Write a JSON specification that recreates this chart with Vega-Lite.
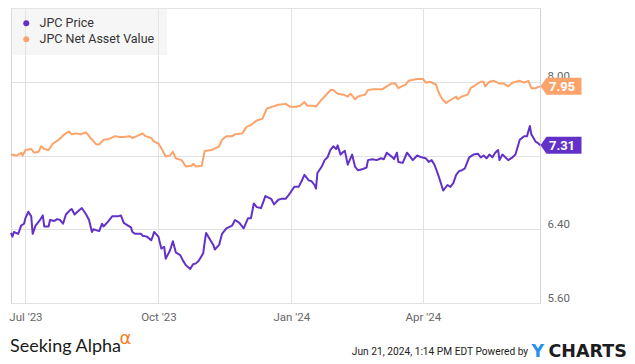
{
  "$schema": "https://vega.github.io/schema/vega-lite/v6.json",
  "width": 529,
  "height": 295,
  "autosize": "none",
  "padding": {"left": 11, "top": 8, "right": 95, "bottom": 61},
  "background": "white",
  "config": {"view": {"stroke": "#d4d4d4", "strokeWidth": 1}, "font": "Roboto"},
  "title": {"text": "Seeking Alpha", "orient": "top", "anchor": "start", "frame": "group", "offset": 0, "dy": 362, "dx": -1, "baseline": "alphabetic", "font": "Lato", "fontSize": 18, "fontWeight": "normal", "color": "#1a1a1a"},
  "datasets": {
    "jpc": [
      {"s": "JPC Price", "d": "2023-06-21", "v": 6.36},
      {"s": "JPC Price", "d": "2023-06-22", "v": 6.32},
      {"s": "JPC Price", "d": "2023-06-23", "v": 6.37},
      {"s": "JPC Price", "d": "2023-06-26", "v": 6.35},
      {"s": "JPC Price", "d": "2023-06-28", "v": 6.44},
      {"s": "JPC Price", "d": "2023-06-30", "v": 6.46},
      {"s": "JPC Price", "d": "2023-07-01", "v": 6.52},
      {"s": "JPC Price", "d": "2023-07-03", "v": 6.59},
      {"s": "JPC Price", "d": "2023-07-05", "v": 6.54},
      {"s": "JPC Price", "d": "2023-07-06", "v": 6.35},
      {"s": "JPC Price", "d": "2023-07-08", "v": 6.44},
      {"s": "JPC Price", "d": "2023-07-11", "v": 6.50},
      {"s": "JPC Price", "d": "2023-07-13", "v": 6.55},
      {"s": "JPC Price", "d": "2023-07-14", "v": 6.43},
      {"s": "JPC Price", "d": "2023-07-17", "v": 6.43},
      {"s": "JPC Price", "d": "2023-07-18", "v": 6.50},
      {"s": "JPC Price", "d": "2023-07-21", "v": 6.49},
      {"s": "JPC Price", "d": "2023-07-23", "v": 6.51},
      {"s": "JPC Price", "d": "2023-07-25", "v": 6.50},
      {"s": "JPC Price", "d": "2023-07-27", "v": 6.46},
      {"s": "JPC Price", "d": "2023-07-29", "v": 6.56},
      {"s": "JPC Price", "d": "2023-08-01", "v": 6.61},
      {"s": "JPC Price", "d": "2023-08-02", "v": 6.62},
      {"s": "JPC Price", "d": "2023-08-04", "v": 6.56},
      {"s": "JPC Price", "d": "2023-08-06", "v": 6.59},
      {"s": "JPC Price", "d": "2023-08-09", "v": 6.63},
      {"s": "JPC Price", "d": "2023-08-12", "v": 6.56},
      {"s": "JPC Price", "d": "2023-08-14", "v": 6.50},
      {"s": "JPC Price", "d": "2023-08-16", "v": 6.37},
      {"s": "JPC Price", "d": "2023-08-17", "v": 6.40},
      {"s": "JPC Price", "d": "2023-08-21", "v": 6.38},
      {"s": "JPC Price", "d": "2023-08-23", "v": 6.46},
      {"s": "JPC Price", "d": "2023-08-24", "v": 6.43},
      {"s": "JPC Price", "d": "2023-08-27", "v": 6.48},
      {"s": "JPC Price", "d": "2023-08-30", "v": 6.54},
      {"s": "JPC Price", "d": "2023-09-03", "v": 6.54},
      {"s": "JPC Price", "d": "2023-09-05", "v": 6.55},
      {"s": "JPC Price", "d": "2023-09-07", "v": 6.47},
      {"s": "JPC Price", "d": "2023-09-10", "v": 6.44},
      {"s": "JPC Price", "d": "2023-09-12", "v": 6.42},
      {"s": "JPC Price", "d": "2023-09-13", "v": 6.37},
      {"s": "JPC Price", "d": "2023-09-15", "v": 6.35},
      {"s": "JPC Price", "d": "2023-09-19", "v": 6.35},
      {"s": "JPC Price", "d": "2023-09-20", "v": 6.33},
      {"s": "JPC Price", "d": "2023-09-23", "v": 6.32},
      {"s": "JPC Price", "d": "2023-09-26", "v": 6.28},
      {"s": "JPC Price", "d": "2023-09-27", "v": 6.32},
      {"s": "JPC Price", "d": "2023-09-28", "v": 6.37},
      {"s": "JPC Price", "d": "2023-10-01", "v": 6.32},
      {"s": "JPC Price", "d": "2023-10-03", "v": 6.19},
      {"s": "JPC Price", "d": "2023-10-05", "v": 6.21},
      {"s": "JPC Price", "d": "2023-10-06", "v": 6.08},
      {"s": "JPC Price", "d": "2023-10-09", "v": 6.17},
      {"s": "JPC Price", "d": "2023-10-11", "v": 6.27},
      {"s": "JPC Price", "d": "2023-10-13", "v": 6.15},
      {"s": "JPC Price", "d": "2023-10-16", "v": 6.12},
      {"s": "JPC Price", "d": "2023-10-18", "v": 6.06},
      {"s": "JPC Price", "d": "2023-10-20", "v": 6.01},
      {"s": "JPC Price", "d": "2023-10-23", "v": 5.97},
      {"s": "JPC Price", "d": "2023-10-25", "v": 6.02},
      {"s": "JPC Price", "d": "2023-10-27", "v": 6.03},
      {"s": "JPC Price", "d": "2023-10-29", "v": 6.06},
      {"s": "JPC Price", "d": "2023-11-01", "v": 6.14},
      {"s": "JPC Price", "d": "2023-11-02", "v": 6.26},
      {"s": "JPC Price", "d": "2023-11-03", "v": 6.36},
      {"s": "JPC Price", "d": "2023-11-06", "v": 6.28},
      {"s": "JPC Price", "d": "2023-11-08", "v": 6.23},
      {"s": "JPC Price", "d": "2023-11-09", "v": 6.18},
      {"s": "JPC Price", "d": "2023-11-12", "v": 6.23},
      {"s": "JPC Price", "d": "2023-11-14", "v": 6.35},
      {"s": "JPC Price", "d": "2023-11-17", "v": 6.41},
      {"s": "JPC Price", "d": "2023-11-21", "v": 6.44},
      {"s": "JPC Price", "d": "2023-11-23", "v": 6.50},
      {"s": "JPC Price", "d": "2023-11-26", "v": 6.47},
      {"s": "JPC Price", "d": "2023-11-29", "v": 6.41},
      {"s": "JPC Price", "d": "2023-12-02", "v": 6.52},
      {"s": "JPC Price", "d": "2023-12-04", "v": 6.52},
      {"s": "JPC Price", "d": "2023-12-06", "v": 6.68},
      {"s": "JPC Price", "d": "2023-12-08", "v": 6.64},
      {"s": "JPC Price", "d": "2023-12-11", "v": 6.63},
      {"s": "JPC Price", "d": "2023-12-14", "v": 6.76},
      {"s": "JPC Price", "d": "2023-12-18", "v": 6.73},
      {"s": "JPC Price", "d": "2023-12-20", "v": 6.67},
      {"s": "JPC Price", "d": "2023-12-23", "v": 6.72},
      {"s": "JPC Price", "d": "2023-12-25", "v": 6.73},
      {"s": "JPC Price", "d": "2023-12-28", "v": 6.73},
      {"s": "JPC Price", "d": "2023-12-31", "v": 6.79},
      {"s": "JPC Price", "d": "2024-01-03", "v": 6.86},
      {"s": "JPC Price", "d": "2024-01-06", "v": 6.86},
      {"s": "JPC Price", "d": "2024-01-08", "v": 6.92},
      {"s": "JPC Price", "d": "2024-01-10", "v": 6.99},
      {"s": "JPC Price", "d": "2024-01-13", "v": 6.93},
      {"s": "JPC Price", "d": "2024-01-15", "v": 6.92},
      {"s": "JPC Price", "d": "2024-01-17", "v": 6.88},
      {"s": "JPC Price", "d": "2024-01-18", "v": 6.84},
      {"s": "JPC Price", "d": "2024-01-19", "v": 7.01},
      {"s": "JPC Price", "d": "2024-01-22", "v": 7.08},
      {"s": "JPC Price", "d": "2024-01-24", "v": 7.15},
      {"s": "JPC Price", "d": "2024-01-26", "v": 7.18},
      {"s": "JPC Price", "d": "2024-01-28", "v": 7.26},
      {"s": "JPC Price", "d": "2024-01-30", "v": 7.30},
      {"s": "JPC Price", "d": "2024-02-01", "v": 7.27},
      {"s": "JPC Price", "d": "2024-02-02", "v": 7.31},
      {"s": "JPC Price", "d": "2024-02-04", "v": 7.21},
      {"s": "JPC Price", "d": "2024-02-06", "v": 7.24},
      {"s": "JPC Price", "d": "2024-02-07", "v": 7.25},
      {"s": "JPC Price", "d": "2024-02-09", "v": 7.10},
      {"s": "JPC Price", "d": "2024-02-12", "v": 7.21},
      {"s": "JPC Price", "d": "2024-02-14", "v": 7.08},
      {"s": "JPC Price", "d": "2024-02-16", "v": 7.04},
      {"s": "JPC Price", "d": "2024-02-19", "v": 7.05},
      {"s": "JPC Price", "d": "2024-02-22", "v": 7.07},
      {"s": "JPC Price", "d": "2024-02-23", "v": 7.15},
      {"s": "JPC Price", "d": "2024-02-26", "v": 7.16},
      {"s": "JPC Price", "d": "2024-02-29", "v": 7.15},
      {"s": "JPC Price", "d": "2024-03-03", "v": 7.17},
      {"s": "JPC Price", "d": "2024-03-05", "v": 7.16},
      {"s": "JPC Price", "d": "2024-03-07", "v": 7.23},
      {"s": "JPC Price", "d": "2024-03-11", "v": 7.18},
      {"s": "JPC Price", "d": "2024-03-12", "v": 7.16},
      {"s": "JPC Price", "d": "2024-03-14", "v": 7.23},
      {"s": "JPC Price", "d": "2024-03-15", "v": 7.13},
      {"s": "JPC Price", "d": "2024-03-18", "v": 7.12},
      {"s": "JPC Price", "d": "2024-03-21", "v": 7.23},
      {"s": "JPC Price", "d": "2024-03-23", "v": 7.19},
      {"s": "JPC Price", "d": "2024-03-25", "v": 7.15},
      {"s": "JPC Price", "d": "2024-03-28", "v": 7.20},
      {"s": "JPC Price", "d": "2024-03-31", "v": 7.18},
      {"s": "JPC Price", "d": "2024-04-03", "v": 7.17},
      {"s": "JPC Price", "d": "2024-04-05", "v": 7.13},
      {"s": "JPC Price", "d": "2024-04-07", "v": 7.15},
      {"s": "JPC Price", "d": "2024-04-09", "v": 7.10},
      {"s": "JPC Price", "d": "2024-04-12", "v": 6.97},
      {"s": "JPC Price", "d": "2024-04-13", "v": 6.92},
      {"s": "JPC Price", "d": "2024-04-15", "v": 6.82},
      {"s": "JPC Price", "d": "2024-04-18", "v": 6.88},
      {"s": "JPC Price", "d": "2024-04-20", "v": 6.86},
      {"s": "JPC Price", "d": "2024-04-22", "v": 6.90},
      {"s": "JPC Price", "d": "2024-04-24", "v": 6.99},
      {"s": "JPC Price", "d": "2024-04-26", "v": 7.03},
      {"s": "JPC Price", "d": "2024-04-28", "v": 7.04},
      {"s": "JPC Price", "d": "2024-04-30", "v": 7.06},
      {"s": "JPC Price", "d": "2024-05-03", "v": 7.18},
      {"s": "JPC Price", "d": "2024-05-06", "v": 7.21},
      {"s": "JPC Price", "d": "2024-05-09", "v": 7.22},
      {"s": "JPC Price", "d": "2024-05-11", "v": 7.18},
      {"s": "JPC Price", "d": "2024-05-13", "v": 7.20},
      {"s": "JPC Price", "d": "2024-05-15", "v": 7.17},
      {"s": "JPC Price", "d": "2024-05-17", "v": 7.21},
      {"s": "JPC Price", "d": "2024-05-19", "v": 7.18},
      {"s": "JPC Price", "d": "2024-05-21", "v": 7.23},
      {"s": "JPC Price", "d": "2024-05-23", "v": 7.26},
      {"s": "JPC Price", "d": "2024-05-24", "v": 7.15},
      {"s": "JPC Price", "d": "2024-05-26", "v": 7.21},
      {"s": "JPC Price", "d": "2024-05-28", "v": 7.18},
      {"s": "JPC Price", "d": "2024-05-30", "v": 7.15},
      {"s": "JPC Price", "d": "2024-06-02", "v": 7.18},
      {"s": "JPC Price", "d": "2024-06-04", "v": 7.21},
      {"s": "JPC Price", "d": "2024-06-07", "v": 7.37},
      {"s": "JPC Price", "d": "2024-06-10", "v": 7.41},
      {"s": "JPC Price", "d": "2024-06-12", "v": 7.41},
      {"s": "JPC Price", "d": "2024-06-14", "v": 7.52},
      {"s": "JPC Price", "d": "2024-06-15", "v": 7.43},
      {"s": "JPC Price", "d": "2024-06-18", "v": 7.35},
      {"s": "JPC Price", "d": "2024-06-20", "v": 7.33},
      {"s": "JPC Price", "d": "2024-06-21", "v": 7.31},
      {"s": "JPC Net Asset Value", "d": "2023-06-21", "v": 7.21},
      {"s": "JPC Net Asset Value", "d": "2023-06-25", "v": 7.20},
      {"s": "JPC Net Asset Value", "d": "2023-06-28", "v": 7.23},
      {"s": "JPC Net Asset Value", "d": "2023-06-29", "v": 7.20},
      {"s": "JPC Net Asset Value", "d": "2023-07-01", "v": 7.26},
      {"s": "JPC Net Asset Value", "d": "2023-07-05", "v": 7.27},
      {"s": "JPC Net Asset Value", "d": "2023-07-07", "v": 7.23},
      {"s": "JPC Net Asset Value", "d": "2023-07-10", "v": 7.24},
      {"s": "JPC Net Asset Value", "d": "2023-07-12", "v": 7.30},
      {"s": "JPC Net Asset Value", "d": "2023-07-14", "v": 7.27},
      {"s": "JPC Net Asset Value", "d": "2023-07-17", "v": 7.26},
      {"s": "JPC Net Asset Value", "d": "2023-07-20", "v": 7.33},
      {"s": "JPC Net Asset Value", "d": "2023-07-24", "v": 7.37},
      {"s": "JPC Net Asset Value", "d": "2023-07-28", "v": 7.43},
      {"s": "JPC Net Asset Value", "d": "2023-07-31", "v": 7.46},
      {"s": "JPC Net Asset Value", "d": "2023-08-02", "v": 7.43},
      {"s": "JPC Net Asset Value", "d": "2023-08-05", "v": 7.44},
      {"s": "JPC Net Asset Value", "d": "2023-08-08", "v": 7.43},
      {"s": "JPC Net Asset Value", "d": "2023-08-12", "v": 7.45},
      {"s": "JPC Net Asset Value", "d": "2023-08-15", "v": 7.39},
      {"s": "JPC Net Asset Value", "d": "2023-08-19", "v": 7.32},
      {"s": "JPC Net Asset Value", "d": "2023-08-21", "v": 7.32},
      {"s": "JPC Net Asset Value", "d": "2023-08-24", "v": 7.37},
      {"s": "JPC Net Asset Value", "d": "2023-08-28", "v": 7.38},
      {"s": "JPC Net Asset Value", "d": "2023-09-01", "v": 7.41},
      {"s": "JPC Net Asset Value", "d": "2023-09-04", "v": 7.40},
      {"s": "JPC Net Asset Value", "d": "2023-09-07", "v": 7.40},
      {"s": "JPC Net Asset Value", "d": "2023-09-11", "v": 7.41},
      {"s": "JPC Net Asset Value", "d": "2023-09-13", "v": 7.39},
      {"s": "JPC Net Asset Value", "d": "2023-09-16", "v": 7.41},
      {"s": "JPC Net Asset Value", "d": "2023-09-20", "v": 7.44},
      {"s": "JPC Net Asset Value", "d": "2023-09-22", "v": 7.41},
      {"s": "JPC Net Asset Value", "d": "2023-09-26", "v": 7.39},
      {"s": "JPC Net Asset Value", "d": "2023-09-28", "v": 7.35},
      {"s": "JPC Net Asset Value", "d": "2023-10-01", "v": 7.33},
      {"s": "JPC Net Asset Value", "d": "2023-10-03", "v": 7.28},
      {"s": "JPC Net Asset Value", "d": "2023-10-06", "v": 7.19},
      {"s": "JPC Net Asset Value", "d": "2023-10-09", "v": 7.20},
      {"s": "JPC Net Asset Value", "d": "2023-10-11", "v": 7.24},
      {"s": "JPC Net Asset Value", "d": "2023-10-13", "v": 7.17},
      {"s": "JPC Net Asset Value", "d": "2023-10-17", "v": 7.15},
      {"s": "JPC Net Asset Value", "d": "2023-10-20", "v": 7.08},
      {"s": "JPC Net Asset Value", "d": "2023-10-24", "v": 7.09},
      {"s": "JPC Net Asset Value", "d": "2023-10-25", "v": 7.11},
      {"s": "JPC Net Asset Value", "d": "2023-10-27", "v": 7.08},
      {"s": "JPC Net Asset Value", "d": "2023-10-31", "v": 7.09},
      {"s": "JPC Net Asset Value", "d": "2023-11-02", "v": 7.25},
      {"s": "JPC Net Asset Value", "d": "2023-11-07", "v": 7.26},
      {"s": "JPC Net Asset Value", "d": "2023-11-12", "v": 7.30},
      {"s": "JPC Net Asset Value", "d": "2023-11-14", "v": 7.37},
      {"s": "JPC Net Asset Value", "d": "2023-11-17", "v": 7.41},
      {"s": "JPC Net Asset Value", "d": "2023-11-21", "v": 7.41},
      {"s": "JPC Net Asset Value", "d": "2023-11-23", "v": 7.43},
      {"s": "JPC Net Asset Value", "d": "2023-11-28", "v": 7.44},
      {"s": "JPC Net Asset Value", "d": "2023-12-01", "v": 7.51},
      {"s": "JPC Net Asset Value", "d": "2023-12-04", "v": 7.53},
      {"s": "JPC Net Asset Value", "d": "2023-12-08", "v": 7.58},
      {"s": "JPC Net Asset Value", "d": "2023-12-12", "v": 7.60},
      {"s": "JPC Net Asset Value", "d": "2023-12-15", "v": 7.71},
      {"s": "JPC Net Asset Value", "d": "2023-12-19", "v": 7.73},
      {"s": "JPC Net Asset Value", "d": "2023-12-23", "v": 7.75},
      {"s": "JPC Net Asset Value", "d": "2023-12-28", "v": 7.76},
      {"s": "JPC Net Asset Value", "d": "2023-12-31", "v": 7.73},
      {"s": "JPC Net Asset Value", "d": "2024-01-05", "v": 7.73},
      {"s": "JPC Net Asset Value", "d": "2024-01-07", "v": 7.74},
      {"s": "JPC Net Asset Value", "d": "2024-01-10", "v": 7.78},
      {"s": "JPC Net Asset Value", "d": "2024-01-12", "v": 7.74},
      {"s": "JPC Net Asset Value", "d": "2024-01-16", "v": 7.74},
      {"s": "JPC Net Asset Value", "d": "2024-01-18", "v": 7.73},
      {"s": "JPC Net Asset Value", "d": "2024-01-21", "v": 7.79},
      {"s": "JPC Net Asset Value", "d": "2024-01-24", "v": 7.84},
      {"s": "JPC Net Asset Value", "d": "2024-01-28", "v": 7.91},
      {"s": "JPC Net Asset Value", "d": "2024-01-30", "v": 7.91},
      {"s": "JPC Net Asset Value", "d": "2024-02-02", "v": 7.87},
      {"s": "JPC Net Asset Value", "d": "2024-02-06", "v": 7.86},
      {"s": "JPC Net Asset Value", "d": "2024-02-09", "v": 7.84},
      {"s": "JPC Net Asset Value", "d": "2024-02-11", "v": 7.87},
      {"s": "JPC Net Asset Value", "d": "2024-02-14", "v": 7.81},
      {"s": "JPC Net Asset Value", "d": "2024-02-16", "v": 7.84},
      {"s": "JPC Net Asset Value", "d": "2024-02-21", "v": 7.86},
      {"s": "JPC Net Asset Value", "d": "2024-02-23", "v": 7.91},
      {"s": "JPC Net Asset Value", "d": "2024-02-27", "v": 7.92},
      {"s": "JPC Net Asset Value", "d": "2024-03-04", "v": 7.92},
      {"s": "JPC Net Asset Value", "d": "2024-03-07", "v": 7.95},
      {"s": "JPC Net Asset Value", "d": "2024-03-10", "v": 7.98},
      {"s": "JPC Net Asset Value", "d": "2024-03-13", "v": 7.98},
      {"s": "JPC Net Asset Value", "d": "2024-03-15", "v": 7.93},
      {"s": "JPC Net Asset Value", "d": "2024-03-20", "v": 7.97},
      {"s": "JPC Net Asset Value", "d": "2024-03-22", "v": 8.01},
      {"s": "JPC Net Asset Value", "d": "2024-03-28", "v": 8.03},
      {"s": "JPC Net Asset Value", "d": "2024-04-01", "v": 8.03},
      {"s": "JPC Net Asset Value", "d": "2024-04-03", "v": 7.99},
      {"s": "JPC Net Asset Value", "d": "2024-04-06", "v": 8.00},
      {"s": "JPC Net Asset Value", "d": "2024-04-10", "v": 7.97},
      {"s": "JPC Net Asset Value", "d": "2024-04-12", "v": 7.88},
      {"s": "JPC Net Asset Value", "d": "2024-04-14", "v": 7.82},
      {"s": "JPC Net Asset Value", "d": "2024-04-17", "v": 7.77},
      {"s": "JPC Net Asset Value", "d": "2024-04-21", "v": 7.81},
      {"s": "JPC Net Asset Value", "d": "2024-04-24", "v": 7.84},
      {"s": "JPC Net Asset Value", "d": "2024-04-25", "v": 7.81},
      {"s": "JPC Net Asset Value", "d": "2024-04-28", "v": 7.84},
      {"s": "JPC Net Asset Value", "d": "2024-05-02", "v": 7.86},
      {"s": "JPC Net Asset Value", "d": "2024-05-04", "v": 7.93},
      {"s": "JPC Net Asset Value", "d": "2024-05-08", "v": 7.97},
      {"s": "JPC Net Asset Value", "d": "2024-05-11", "v": 8.00},
      {"s": "JPC Net Asset Value", "d": "2024-05-13", "v": 8.00},
      {"s": "JPC Net Asset Value", "d": "2024-05-14", "v": 7.95},
      {"s": "JPC Net Asset Value", "d": "2024-05-17", "v": 8.00},
      {"s": "JPC Net Asset Value", "d": "2024-05-20", "v": 8.01},
      {"s": "JPC Net Asset Value", "d": "2024-05-24", "v": 7.98},
      {"s": "JPC Net Asset Value", "d": "2024-05-27", "v": 7.98},
      {"s": "JPC Net Asset Value", "d": "2024-05-30", "v": 7.95},
      {"s": "JPC Net Asset Value", "d": "2024-06-02", "v": 7.99},
      {"s": "JPC Net Asset Value", "d": "2024-06-07", "v": 8.01},
      {"s": "JPC Net Asset Value", "d": "2024-06-10", "v": 7.99},
      {"s": "JPC Net Asset Value", "d": "2024-06-13", "v": 8.01},
      {"s": "JPC Net Asset Value", "d": "2024-06-15", "v": 7.93},
      {"s": "JPC Net Asset Value", "d": "2024-06-18", "v": 7.93},
      {"s": "JPC Net Asset Value", "d": "2024-06-21", "v": 7.95}
    ]
  },
  "data": {"name": "jpc"},
  "layer": [
    {
      "mark": {"type": "line", "strokeWidth": 2, "strokeJoin": "round"},
      "encoding": {
        "x": {
          "field": "d", "type": "temporal",
          "scale": {"domain": [{"year": 2023, "month": 6, "date": 21, "utc": true}, {"year": 2024, "month": 6, "date": 21, "utc": true}]},
          "axis": {
            "orient": "bottom",
            "values": [{"year": 2023, "month": 7, "date": 1, "utc": true}, {"year": 2023, "month": 10, "date": 1, "utc": true}, {"year": 2024, "month": 1, "date": 1, "utc": true}, {"year": 2024, "month": 4, "date": 1, "utc": true}],
            "labelExpr": "utcFormat(datum.value, \"%b '%y\")",
            "grid": true, "gridColor": "#e2e2e2", "ticks": false, "domain": false,
            "labelFlush": false, "labelPadding": 8, "labelFont": "Roboto", "labelFontSize": 11.5, "labelColor": "#666666",
            "title": "Jun 21, 2024, 1:14 PM EDT Powered by",
            "titleX": 516.7, "titleY": 48.7, "titleAlign": "right", "titleAnchor": null, "titleBaseline": "middle",
            "titleFont": "Roboto", "titleFontSize": 10.2, "titleFontWeight": "normal", "titleColor": "#222222"
          }
        },
        "y": {
          "field": "v", "type": "quantitative",
          "scale": {"domain": [5.6, 8.8], "nice": false, "zero": false},
          "axis": {
            "orient": "right",
            "values": [5.6, 6.4, 7.2, 8.0, 8.8],
            "labelExpr": "(datum.value > 7.1 && datum.value < 7.3) || datum.value > 8.5 ? '' : format(datum.value, '.2f')",
            "grid": true, "gridColor": "#e2e2e2", "ticks": false, "domain": false,
            "labelPadding": 7, "labelBaseline": "alphabetic", "labelOffset": -2, "labelFlush": false,
            "labelFont": "Roboto", "labelFontSize": 11.5, "labelColor": "#666666",
            "title": "CHARTS", "titleX": 8, "titleY": 348.7, "titleAngle": 0, "titleAlign": "left", "titleAnchor": null, "titleBaseline": "alphabetic",
            "titleFont": "DejaVu Sans", "titleFontSize": 17.5, "titleFontWeight": "bold", "titleColor": "#1d1d1f"
          }
        },
        "stroke": {
          "field": "s", "type": "nominal",
          "scale": {"domain": ["JPC Price", "JPC Net Asset Value"], "range": ["#6232c8", "#fba36b"]},
          "legend": {
            "orient": "none", "legendX": 0, "legendY": 0,
            "title": "\u00a0\u00a0\u00a0\u00a0\u00a0\u00a0\u00a0\u00a0\u00a0\u00a0\u00a0\u00a0\u00a0", "titleOrient": "right", "titleFontSize": 12, "titlePadding": 4,
            "fillColor": "rgba(232,232,232,0.4)", "padding": 9, "rowPadding": 3,
            "symbolType": "circle", "symbolSize": 36, "symbolStrokeWidth": 0,
            "labelFont": "Roboto", "labelFontSize": 12.5, "labelColor": "#333333", "labelOffset": 7
          }
        }
      }
    },
    {
      "transform": [{"filter": "utcyear(toDate(datum.d)) == 2024 && utcmonth(toDate(datum.d)) == 5 && utcdate(toDate(datum.d)) == 21"}],
      "encoding": {
        "x": {
          "field": "d", "type": "temporal",
          "scale": {"domain": [{"year": 2023, "month": 6, "date": 21, "utc": true}, {"year": 2024, "month": 6, "date": 21, "utc": true}]},
          "axis": {
            "orient": "top", "labels": false, "ticks": false, "domain": false, "grid": false,
            "title": "Y", "titleX": 520, "titleY": 348.7, "titleAngle": 0, "titleAlign": "left", "titleAnchor": null, "titleBaseline": "alphabetic",
            "titleFont": "DejaVu Sans", "titleFontSize": 17.5, "titleFontWeight": "bold", "titleColor": "#2a8fe8"
          }
        },
        "y": {
          "field": "v", "type": "quantitative",
          "scale": {"domain": [5.6, 8.8], "nice": false, "zero": false},
          "axis": {
            "orient": "left", "labels": false, "ticks": false, "domain": false, "grid": false,
            "title": "α", "titleX": 108, "titleY": 335, "titleAngle": 0, "titleAlign": "left", "titleAnchor": null, "titleBaseline": "alphabetic",
            "titleFont": "DejaVu Sans", "titleFontSize": 18, "titleFontWeight": "normal", "titleColor": "#f7801a"
          }
        }
      },
      "layer": [
        {
          "mark": {"type": "point", "shape": "M -1 0 L -0.71 -0.415 L 1 -0.415 L 1 0.415 L -0.71 0.415 Z", "size": 1681, "filled": true, "opacity": 1, "strokeWidth": 0, "xOffset": 21},
          "encoding": {
            "fill": {
              "field": "s", "type": "nominal",
              "scale": {"domain": ["JPC Price", "JPC Net Asset Value"], "range": ["#6232c8", "#fba36b"]},
              "legend": {
                "orient": "none", "legendX": 0, "legendY": 0,
                "title": "\u00a0\u00a0\u00a0\u00a0\u00a0\u00a0\u00a0\u00a0\u00a0\u00a0\u00a0\u00a0\u00a0", "titleOrient": "right", "titleFontSize": 12, "titlePadding": 4,
                "fillColor": "rgba(232,232,232,0.4)", "padding": 9, "rowPadding": 3,
                "symbolType": "circle", "symbolSize": 36, "symbolStrokeWidth": 0,
                "labelFont": "Roboto", "labelFontSize": 12.5, "labelColor": "#333333", "labelOffset": 7
              }
            }
          }
        },
        {
          "mark": {"type": "text", "color": "white", "font": "Roboto", "fontWeight": "bold", "fontSize": 13, "align": "center", "baseline": "middle", "xOffset": 22, "yOffset": 0.5},
          "encoding": {"text": {"field": "v", "type": "quantitative", "format": ".2f"}}
        }
      ]
    }
  ],
  "resolve": {"scale": {"x": "independent", "y": "independent"}, "axis": {"x": "independent", "y": "independent"}}
}
